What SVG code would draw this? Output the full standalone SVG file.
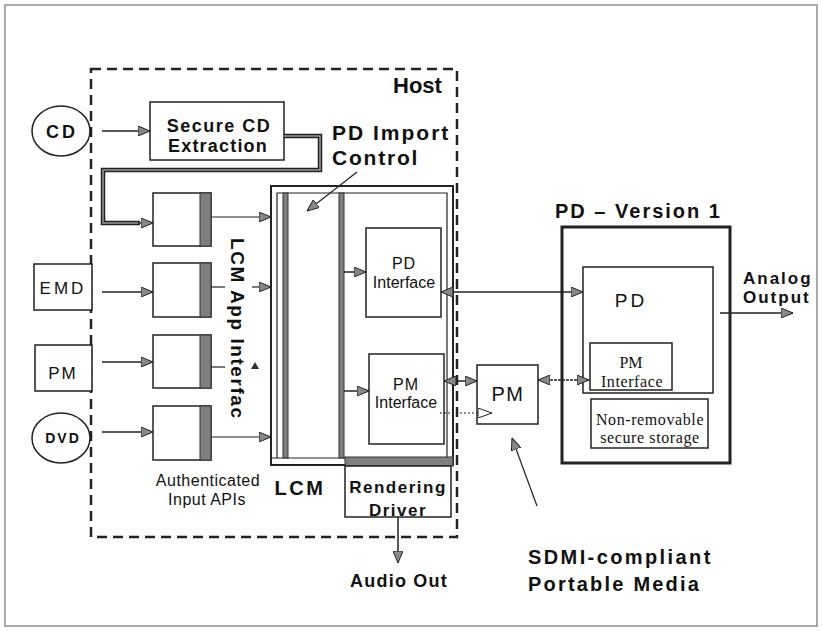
<svg xmlns="http://www.w3.org/2000/svg" width="822" height="631" viewBox="0 0 822 631">
<style>
.b{font-family:"Liberation Sans",Arial,sans-serif;font-weight:bold;fill:#111}
.r{font-family:"Liberation Sans",Arial,sans-serif;fill:#111}
.t{font-family:"Liberation Serif","Times New Roman",serif;fill:#111}
.box{fill:#fff;stroke:#222;stroke-width:1.5}
.strip{fill:#7f7f7f;stroke:#333;stroke-width:1}
.ln{fill:none;stroke:#222;stroke-width:1.5}
.thin{fill:none;stroke:#222;stroke-width:1.2}
</style>
<defs>
<marker id="ah" viewBox="0 0 12 10" refX="12" refY="5" markerWidth="12" markerHeight="10" markerUnits="userSpaceOnUse" orient="auto-start-reverse"><path d="M0,0 L12,5 L0,10 z" fill="#888" stroke="#222" stroke-width="1"/></marker>
<marker id="ahw" viewBox="0 0 14 10" refX="14" refY="5" markerWidth="14" markerHeight="10" markerUnits="userSpaceOnUse" orient="auto"><path d="M0,0 L14,5 L0,10 z" fill="#fff" stroke="#222" stroke-width="1"/></marker>
</defs>
<rect width="822" height="631" fill="#fff"/>
<rect x="5" y="5" width="812" height="621" fill="none" stroke="#aaa" stroke-width="2"/>

<g id="host">
<rect x="91" y="69" width="366" height="468" fill="none" stroke="#222" stroke-width="2.5" stroke-dasharray="10,6"/>
<text class="b" x="393" y="93" font-size="22">Host</text>
</g>

<g id="cd">
<ellipse cx="61" cy="131" rx="29" ry="25" class="box"/>
<text class="b" x="62" y="138" font-size="18" letter-spacing="3" text-anchor="middle">CD</text>
</g>
<g id="emd">
<rect x="34" y="264" width="58" height="46" class="box"/>
<text class="r" x="63" y="294" font-size="17" letter-spacing="3" text-anchor="middle">EMD</text>
</g>
<g id="pm-src">
<rect x="35" y="345" width="57" height="46" class="box"/>
<text class="r" x="63" y="379" font-size="17" letter-spacing="2" text-anchor="middle">PM</text>
</g>
<g id="dvd">
<ellipse cx="61" cy="438" rx="29" ry="25" class="box"/>
<text class="b" x="63" y="443" font-size="14" letter-spacing="2" text-anchor="middle">DVD</text>
</g>

<g id="secure-cd">
<rect x="150" y="102" width="134" height="58" class="box"/>
<text class="b" x="219" y="132" font-size="18" letter-spacing="1.5" text-anchor="middle">Secure CD</text>
<text class="b" x="218" y="152" font-size="18" letter-spacing="1.2" text-anchor="middle">Extraction</text>
</g>

<g id="api1"><rect x="153" y="193" width="58" height="53" class="box"/><rect x="200" y="193" width="11" height="53" class="strip"/></g>
<g id="api2"><rect x="153" y="263" width="58" height="54" class="box"/><rect x="200" y="263" width="11" height="54" class="strip"/></g>
<g id="api3"><rect x="153" y="335" width="58" height="53" class="box"/><rect x="200" y="335" width="11" height="53" class="strip"/></g>
<g id="api4"><rect x="153" y="406" width="58" height="54" class="box"/><rect x="200" y="406" width="11" height="54" class="strip"/></g>

<g id="lcm-app-interface">
<text class="b" transform="translate(231,238) rotate(90)" font-size="19" textLength="180" lengthAdjust="spacing">LCM App Interfac</text>
</g>
<g id="authenticated">
<text class="r" x="208" y="486" font-size="16" letter-spacing="0.5" text-anchor="middle">Authenticated</text>
<text class="r" x="207" y="505" font-size="16" letter-spacing="0.5" text-anchor="middle">Input APIs</text>
</g>

<g id="lcm">
<rect x="271" y="186" width="182" height="279" fill="#fff" stroke="#222" stroke-width="2"/>
<path d="M277,458 V193 H447 V458" fill="none" stroke="#222" stroke-width="1.2"/>
<line x1="271" y1="458" x2="345" y2="458" stroke="#222" stroke-width="1.2"/>
<rect x="283" y="193" width="5" height="265" class="strip"/>
<rect x="339" y="193" width="5" height="265" class="strip"/>
<rect x="345" y="457" width="108" height="9" fill="#7f7f7f" stroke="#333" stroke-width="1"/>
<text class="b" x="300" y="495" font-size="20" letter-spacing="2.5" text-anchor="middle">LCM</text>
</g>
<g id="pd-import-control">
<text class="b" x="332" y="140" font-size="21" letter-spacing="2">PD Import</text>
<text class="b" x="332" y="165" font-size="21" letter-spacing="1.8">Control</text>
</g>

<g id="pd-interface">
<rect x="366" y="228" width="75" height="89" class="box" stroke-width="1.2"/>
<text class="r" x="404" y="269" font-size="16" letter-spacing="1" text-anchor="middle">PD</text>
<text class="r" x="404" y="288" font-size="16" text-anchor="middle">Interface</text>
</g>
<g id="pm-interface">
<rect x="369" y="354" width="75" height="90" class="box" stroke-width="1.2"/>
<text class="r" x="406" y="390" font-size="16" letter-spacing="1" text-anchor="middle">PM</text>
<text class="r" x="406" y="408" font-size="16" text-anchor="middle">Interface</text>
</g>

<g id="rendering-driver">
<rect x="345" y="466" width="106" height="51" class="box" stroke-width="1.2"/>
<text class="b" x="398" y="493" font-size="17" letter-spacing="1.5" text-anchor="middle">Rendering</text>
<text class="b" x="398" y="516" font-size="17" letter-spacing="1.5" text-anchor="middle">Driver</text>
</g>
<g id="audio-out"><text class="b" x="399" y="587" font-size="18" letter-spacing="1.2" text-anchor="middle">Audio Out</text></g>

<g id="pm-media">
<rect x="477" y="365" width="61" height="59" class="box" stroke-width="1.2"/>
<text class="r" x="508" y="401" font-size="20" letter-spacing="1.5" text-anchor="middle">PM</text>
</g>
<g id="sdmi">
<text class="b" x="528" y="564" font-size="20" letter-spacing="2.4">SDMI-compliant</text>
<text class="b" x="528" y="591" font-size="20" letter-spacing="2.2">Portable Media</text>
</g>

<g id="pd-version1">
<rect x="562" y="227" width="168" height="236" fill="#fff" stroke="#222" stroke-width="3"/>
<text class="b" x="555" y="218" font-size="20" letter-spacing="2">PD – Version 1</text>
</g>
<g id="pd">
<rect x="583" y="267" width="130" height="126" class="box" stroke-width="1.2"/>
<text class="r" x="631" y="307" font-size="19" letter-spacing="3" text-anchor="middle">PD</text>
</g>
<g id="pd-pm-interface">
<rect x="590" y="343" width="82" height="47" class="box" stroke-width="1.2"/>
<text class="t" x="631" y="368" font-size="16" text-anchor="middle">PM</text>
<text class="t" x="632" y="387" font-size="16" letter-spacing="0.6" text-anchor="middle">Interface</text>
</g>
<g id="storage">
<rect x="591" y="399" width="117" height="49" class="box" stroke-width="1.2"/>
<text class="t" x="650" y="425" font-size="16" letter-spacing="0.6" text-anchor="middle">Non-removable</text>
<text class="t" x="650" y="443" font-size="16" letter-spacing="0.6" text-anchor="middle">secure storage</text>
</g>
<g id="analog-output">
<text class="b" x="743" y="284" font-size="17" letter-spacing="2">Analog</text>
<text class="b" x="743" y="303" font-size="17" letter-spacing="2">Output</text>
</g>

<g id="connectors">
<line class="ln" x1="102" y1="131" x2="150" y2="131" marker-end="url(#ah)"/>
<path d="M284,136 H320 V170 H103 V223 H140" fill="none" stroke="#222" stroke-width="4.5"/>
<path d="M284,136 H320 V170 H103 V223 H140" fill="none" stroke="#999" stroke-width="1.5"/>
<line class="ln" x1="138" y1="223" x2="153" y2="223" marker-end="url(#ah)"/>
<line class="ln" x1="102" y1="292" x2="153" y2="292" stroke-width="2.5" marker-end="url(#ah)"/>
<line class="ln" x1="102" y1="362" x2="153" y2="362" stroke-width="2.5" marker-end="url(#ah)"/>
<line class="ln" x1="102" y1="432" x2="153" y2="432" stroke-width="2.5" marker-end="url(#ah)"/>
<line class="thin" x1="211" y1="217" x2="271" y2="217" marker-end="url(#ah)"/>
<line class="thin" x1="211" y1="287" x2="225" y2="287"/>
<line class="thin" x1="252" y1="287" x2="271" y2="287" marker-end="url(#ah)"/>
<line class="thin" x1="211" y1="367" x2="225" y2="367"/>
<polygon points="251,369 259,369 255,362" fill="#333"/>
<line class="thin" x1="211" y1="437" x2="271" y2="437" marker-end="url(#ah)"/>
<line class="ln" x1="344" y1="272" x2="366" y2="272" marker-end="url(#ah)"/>
<line class="ln" x1="344" y1="391" x2="369" y2="391" marker-end="url(#ah)"/>
<line class="ln" x1="441" y1="292" x2="583" y2="292" marker-start="url(#ah)" marker-end="url(#ah)"/>
<line class="ln" x1="444" y1="381" x2="477" y2="381" marker-start="url(#ah)" marker-end="url(#ah)"/>
<line x1="440" y1="413" x2="492" y2="413" stroke="#222" stroke-width="1.2" stroke-dasharray="2,2" marker-end="url(#ahw)"/>
<line class="ln" x1="538" y1="380" x2="589" y2="380" stroke-dasharray="3,1" marker-start="url(#ah)" marker-end="url(#ah)"/>
<line class="ln" x1="720" y1="313" x2="793" y2="313" marker-end="url(#ah)"/>
<line class="ln" x1="398" y1="517" x2="398" y2="563" marker-end="url(#ah)"/>
<line class="thin" x1="357" y1="172" x2="307" y2="211" marker-end="url(#ah)"/>
<line class="thin" x1="537" y1="506" x2="512" y2="438" marker-end="url(#ah)"/>
</g>
</svg>
